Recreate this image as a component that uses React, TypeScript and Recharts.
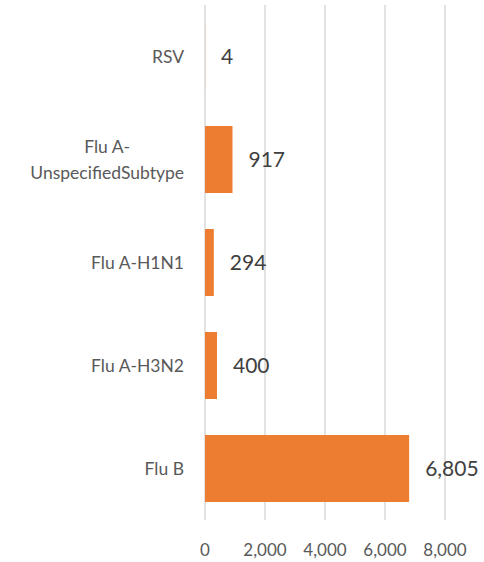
import React from 'react';
import { BarChart, Bar, XAxis, YAxis, CartesianGrid, LabelList } from 'recharts';

const categories = ['RSV', 'Flu A-UnspecifiedSubtype', 'Flu A-H1N1', 'Flu A-H3N2', 'Flu B'];
const cases = [4, 917, 294, 400, 6805];
const xTicks = [0, 2000, 4000, 6000, 8000];

const data = categories.map((name, i) => ({ name, cases: cases[i] }));

const FONT = 'Lato, "Open Sans", sans-serif';
const LABEL_SIZE = 17.5;

let ctx: CanvasRenderingContext2D | null = null;
const measure = (text: string) => {
  if (!ctx) ctx = document.createElement('canvas').getContext('2d');
  if (!ctx) return text.length * 8;
  ctx.font = `${LABEL_SIZE}px Lato`;
  return ctx.measureText(text).width;
};

// wraps long labels after the hyphen, lines centred on each other like Excel does
const CategoryTick = (props: any) => {
  const { x, y, payload } = props;
  const label: string = payload.value;
  let lines = [label];
  if (measure(label) > 180 && label.includes('-')) {
    const cut = label.indexOf('-') + 1;
    lines = [label.slice(0, cut), label.slice(cut)];
  }
  if (lines.length === 1) {
    return (
      <text x={x} y={y} dy="0.35em" textAnchor="end" fill="#595959" fontSize={LABEL_SIZE} fontFamily={FONT}>
        {label}
      </text>
    );
  }
  const widest = Math.max(...lines.map(measure));
  const cx = x - widest / 2;
  const lh = 26;
  return (
    <text textAnchor="middle" fill="#595959" fontSize={LABEL_SIZE} fontFamily={FONT}>
      {lines.map((l, i) => (
        <tspan key={i} x={cx} y={y + (i - (lines.length - 1) / 2) * lh} dy="0.35em">
          {l}
        </tspan>
      ))}
    </text>
  );
};

export default function App() {
  return (
    <div style={{ position: 'absolute', left: 0, top: 0, background: '#fff' }}>
      <BarChart
        width={484}
        height={562}
        data={data}
        layout="vertical"
        margin={{ top: 5, right: 39, bottom: 0, left: 0 }}
        barCategoryGap="17.5%"
      >
        <CartesianGrid horizontal={false} vertical stroke="#d9d9d9" strokeWidth={1.5} />
        <XAxis
          type="number"
          domain={[0, 8000]}
          ticks={xTicks}
          axisLine={false}
          tickLine={false}
          height={42}
          tickMargin={18}
          interval={0}
          tickFormatter={(v: number) => v.toLocaleString('en-US')}
          tick={{ fill: '#595959', fontSize: 17, fontFamily: FONT }}
        />
        <YAxis
          type="category"
          dataKey="name"
          width={205}
          axisLine={false}
          tickLine={false}
          tickMargin={15}
          interval={0}
          tick={<CategoryTick />}
        />
        <Bar dataKey="cases" fill="#ED7D31" isAnimationActive={false}>
          <LabelList
            dataKey="cases"
            position="right"
            offset={16}
            fill="#404040"
            fontSize={21}
            fontFamily={FONT}
            formatter={(v: any) => Number(v).toLocaleString('en-US')}
          />
        </Bar>
      </BarChart>
    </div>
  );
}
